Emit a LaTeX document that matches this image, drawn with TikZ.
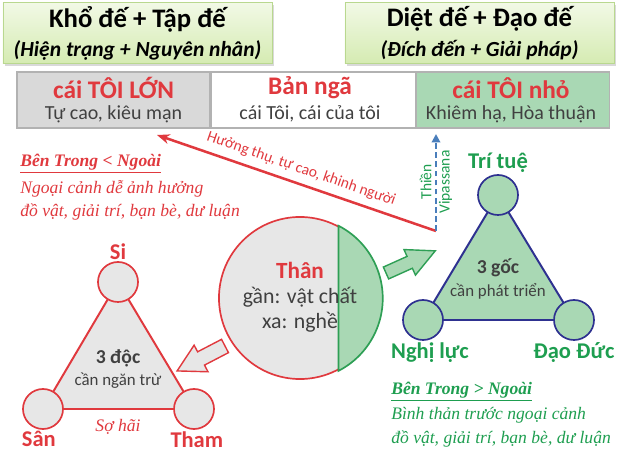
\documentclass[tikz,border=0pt]{standalone}
\usepackage{fontspec}
\setmainfont{Carlito}
\newfontfamily\camb{Liberation Serif}
\usetikzlibrary{arrows.meta, positioning, shadows}

\definecolor{redC}{HTML}{E0393E}
\definecolor{greenT}{HTML}{1E9E50}
\definecolor{greenF}{HTML}{A9D8B4}
\definecolor{greenB}{HTML}{2E9F55}
\definecolor{navyB}{HTML}{2E3190}
\definecolor{grayF}{HTML}{E7E7E7}
\definecolor{barGray}{HTML}{D9D9D9}
\definecolor{darkT}{HTML}{404040}
\definecolor{blueD}{HTML}{4A7EBB}
\definecolor{limeTop}{HTML}{F2F9E6}
\definecolor{limeBot}{HTML}{D5EBB2}
\definecolor{limeB}{HTML}{B9D88F}

\newcommand{\fsz}[1]{\fontsize{#1}{#1}\selectfont}

\begin{document}
\begin{tikzpicture}[x=0.025cm, y=-0.025cm, >=Stealth,
  titlebox/.style={draw=limeB, top color=limeTop, bottom color=limeBot,
    minimum width=6.725cm, minimum height=1.525cm, align=center, inner sep=0pt,
    drop shadow={opacity=0.3, shadow xshift=1.5pt, shadow yshift=-1.5pt}},
  cell/.style={draw=gray!60, line width=0.8pt, minimum height=1.4cm, inner sep=0pt},
  cellhead/.style={font=\fsz{18}\bfseries, text=redC},
  celltext/.style={font=\fsz{14.2}, text=darkT},
  poisonnode/.style={circle, draw=redC, fill=grayF, line width=1.2pt, minimum size=1cm, inner sep=0pt},
  rootnode/.style={circle, draw=navyB, fill=greenF, line width=1.2pt, minimum size=1cm, inner sep=0pt},
  redlbl/.style={font=\fsz{16}\bfseries, text=redC, inner sep=1pt},
  greenlbl/.style={font=\fsz{16}\bfseries, text=greenT, inner sep=1pt},
  coretitle/.style={font=\fsz{14}\bfseries, text=darkT},
  coresub/.style={font=\fsz{12}, text=darkT},
  note/.style={font=\camb\fsz{12.5}\itshape, anchor=west, inner sep=0pt},
  blockarrow/.style={line width=1pt, line join=miter},
]
\useasboundingbox (0,0) rectangle (624,457);

% Titles
\node[titlebox] (kho) at (137.5,33) {\fsz{19}\bfseries Khổ đế + Tập đế\\[5pt]
  \fsz{15.3}\bfseries\itshape (Hiện trạng + Nguyên nhân)};
\node[titlebox] (diet) at (479.5,33) {\fsz{19}\bfseries Diệt đế + Đạo đế\\[5pt]
  \fsz{15.3}\bfseries\itshape (Đích đến + Giải pháp)};

% Bar: cai Toi
\node[cell, fill=barGray, minimum width=4.825cm] (big) at (113.5,100) {};
\node[cell, fill=white, minimum width=5.1cm, right=0pt of big] (ego) {};
\node[cell, fill=greenF, minimum width=4.825cm, right=0pt of ego] (small) {};
\node[cellhead] (bigH) at (113.5,88) {cái TÔI LỚN};
\node[celltext] (bigS) at (113.5,114) {Tự cao, kiêu mạn};
\node[cellhead] (egoH) at (310,88) {Bản ngã};
\node[celltext] (egoS) at (310,114) {cái Tôi, cái của tôi};
\node[cellhead] (smallH) at (511,88) {cái TÔI nhỏ};
\node[celltext] (smallS) at (511,114) {Khiêm hạ, Hòa thuận};

% Arrows up to the bar
\coordinate (fork) at (436,231);
\coordinate (bigTip) at (157,135);
\coordinate (smallTip) at (436,134);
\draw[redC, line width=1.8pt, {Stealth[length=9pt, width=7pt]}-] (bigTip) --
  node[sloped, above=1.5pt, midway, font=\fsz{11}, text=redC] (hint) {Hưởng thụ, tự cao, khinh người} (fork);
\draw[blueD, line width=1.4pt, dash pattern=on 4pt off 2.5pt, -{Triangle[length=6pt, width=6pt]}] (fork) -- (smallTip);
\node[rotate=90, align=center, font=\fsz{11}, text=greenT] (medit) at (436,182)
  {Thiền\\[2pt]Vipassana};

% Left notes
\node[note, text=redC, font=\camb\fsz{12.5}\bfseries\itshape] (inL) at (20,164) {\underline{Bên Trong < Ngoài}};
\node[note, text=redC] (inL2) at (20,189) {Ngoại cảnh dễ ảnh hưởng};
\node[note, text=redC] (inL3) at (20,212) {đồ vật, giải trí, bạn bè, dư luận};

% Than
\node[circle, draw=redC, fill=grayF, line width=1.2pt, minimum size=4.05cm, inner sep=0pt] (than) at (300,298) {};
\filldraw[draw=greenB, fill=greenF, line width=1.2pt] (than.62.8) arc[start angle=62.8, end angle=-62.8, radius=2.04cm] -- cycle;
\node[font=\fsz{16.5}\bfseries, text=redC] (thanT) at (300,270) {Thân};
\node[font=\fsz{15.5}, text=darkT] (thanA) at (300,297) {gần: vật chất};
\node[font=\fsz{15.5}, text=darkT] (thanB) at (300,322) {xa: nghề};

% Block arrows out of Than
\draw[blockarrow, draw=redC, fill=grayF, shift={(225,346)}, rotate=207.5]
  (0,-7.5) -- (27,-7.5) -- (27,-15) -- (54,0) -- (27,15) -- (27,7.5) -- (0,7.5) -- cycle;
\draw[blockarrow, draw=greenB, fill=greenF, shift={(386,273)}, rotate=24.2]
  (0,-6.5) -- (26,-6.5) -- (26,-14) -- (54,0) -- (26,14) -- (26,6.5) -- (0,6.5) -- cycle;

% Left triangle: 3 doc
\coordinate (si) at (118,282);
\coordinate (san) at (43,409);
\coordinate (tham) at (194,409);
\filldraw[draw=redC, fill=grayF, line width=1.4pt] (si) -- (san) -- (tham) -- cycle;
\node[poisonnode] (siC) at (si) {};
\node[poisonnode] (sanC) at (san) {};
\node[poisonnode] (thamC) at (tham) {};
\node[redlbl, above=0pt of siC] (siL) {Si};
\node[redlbl, below=0pt of sanC, xshift=-3pt] (sanL) {Sân};
\node[redlbl, below=0pt of thamC, xshift=2pt] (thamL) {Tham};
\node[font=\camb\fsz{12.5}\itshape, text=redC] (fear) at (118,427) {Sợ hãi};
\node[coretitle] (docT) at (118,358) {3 độc};
\node[coresub] (docS) at (118,381) {cần ngăn trừ};

% Right triangle: 3 goc
\coordinate (tri) at (498,195);
\coordinate (nghi) at (423,320);
\coordinate (dao) at (574,320);
\filldraw[draw=navyB, fill=greenF, line width=1.4pt] (tri) -- (nghi) -- (dao) -- cycle;
\node[rootnode] (triC) at (tri) {};
\node[rootnode] (nghiC) at (nghi) {};
\node[rootnode] (daoC) at (dao) {};
\node[greenlbl, above=0pt of triC] (triL) {Trí tuệ};
\node[greenlbl, below=0pt of nghiC, xshift=5pt] (nghiL) {Nghị lực};
\node[greenlbl, below=0pt of daoC] (daoL) {Đạo Đức};
\node[coretitle] (gocT) at (498,268) {3 gốc};
\node[coresub] (gocS) at (498,291) {cần phát triển};

% Right notes
\node[note, text=greenT, font=\camb\fsz{12.5}\bfseries\itshape] (inR) at (391,392) {\underline{Bên Trong > Ngoài}};
\node[note, text=greenT] (inR2) at (391,415) {Bình thản trước ngoại cảnh};
\node[note, text=greenT] (inR3) at (391,439) {đồ vật, giải trí, bạn bè, dư luận};
\end{tikzpicture}
\end{document}
